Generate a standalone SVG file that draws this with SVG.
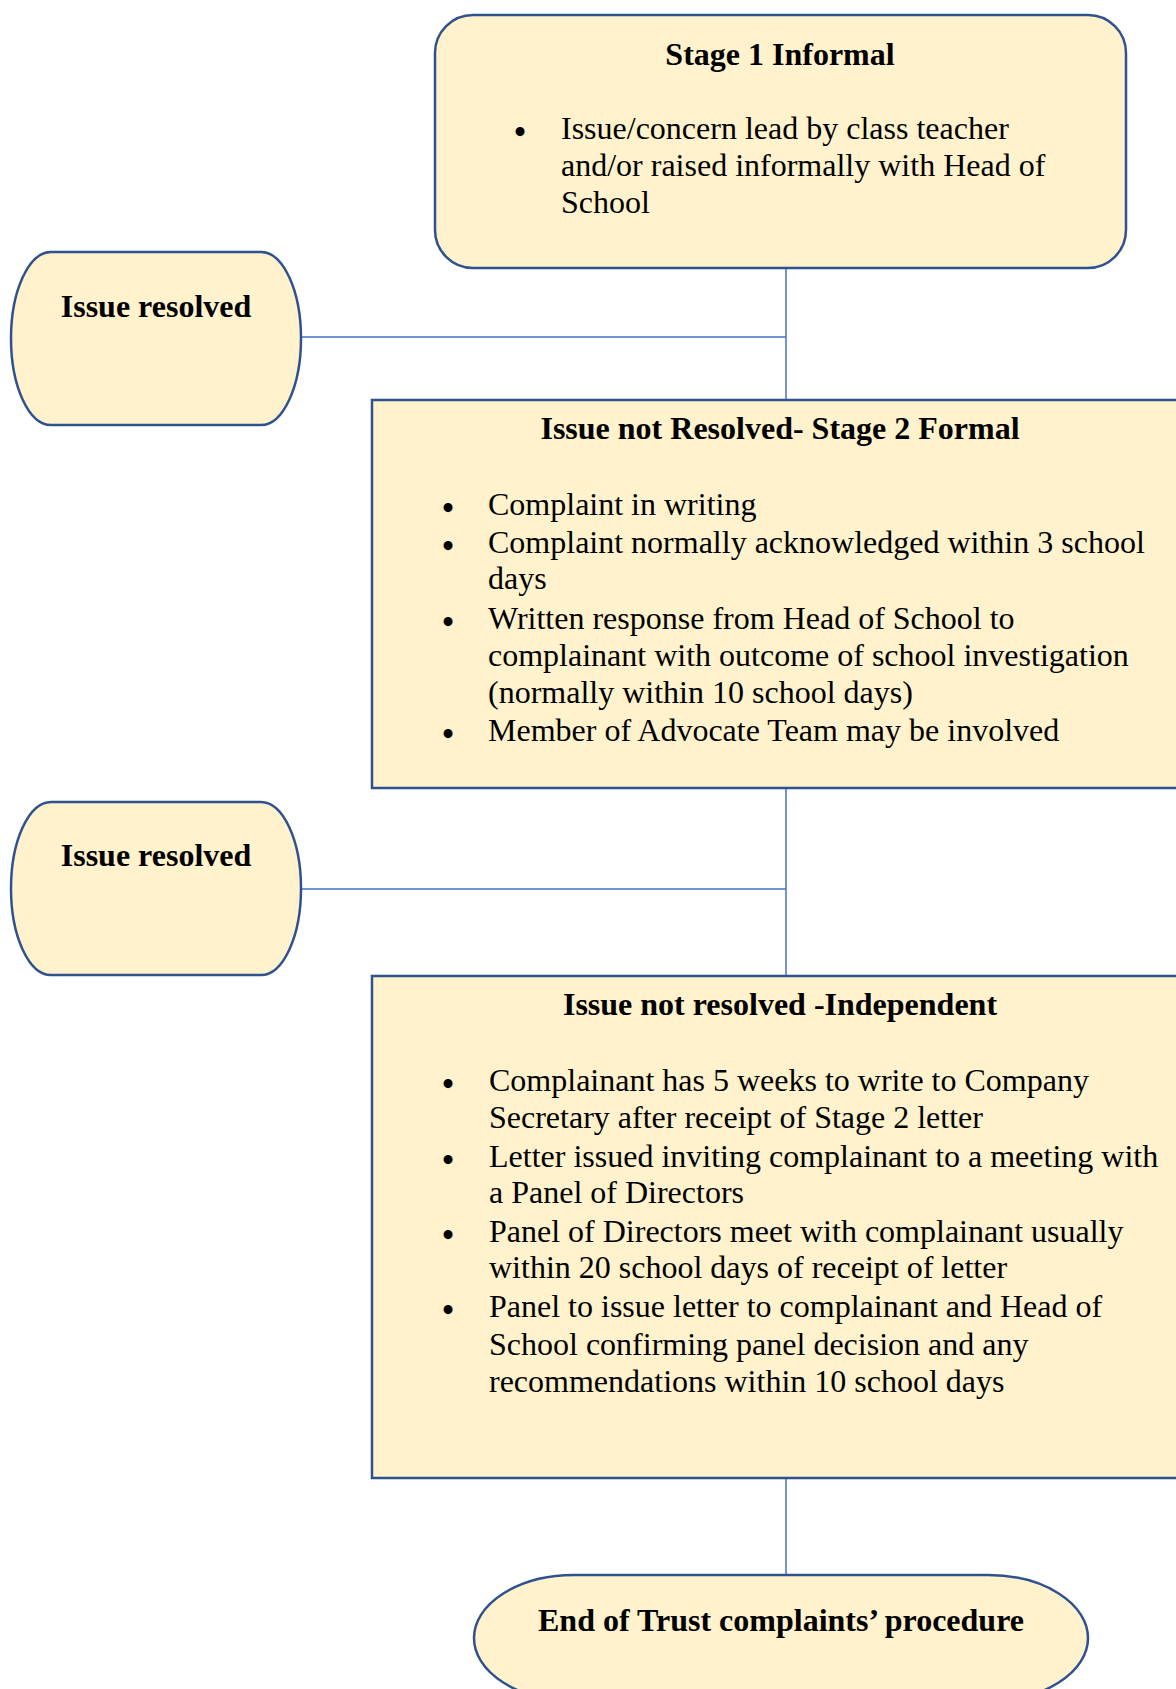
<svg xmlns="http://www.w3.org/2000/svg" width="1176" height="1689" viewBox="0 0 1176 1689">
  <style>
    .node { fill: #FFF2CC; stroke: #2F528F; stroke-width: 2.5; }
    .conn { stroke: #4472C4; stroke-width: 1.5; fill: none; }
    .t { font-family: "Liberation Serif", "Times New Roman", serif; font-size: 32px; fill: #000; }
    .b { font-weight: bold; }
    .c { text-anchor: middle; }
    .bul { font-family: "Liberation Serif", "Times New Roman", serif; font-size: 33px; font-weight: bold; text-anchor: middle; fill: #000; }
  </style>
  <rect x="0" y="0" width="1176" height="1689" fill="#FFFFFF"/>
  <g id="connectors">
    <line class="conn" x1="786" y1="268" x2="786" y2="400"/>
    <line class="conn" x1="301" y1="337" x2="786" y2="337"/>
    <line class="conn" x1="786" y1="788" x2="786" y2="976"/>
    <line class="conn" x1="301" y1="889" x2="786" y2="889"/>
    <line class="conn" x1="786" y1="1478" x2="786" y2="1575"/>
  </g>
  <g id="stage1">
    <rect class="node" x="435" y="15" width="691" height="253" rx="38" ry="38"/>
    <text class="t b c" x="780" y="65">Stage 1 Informal</text>
    <text class="bul" x="520" y="143">•</text>
    <text class="t" x="561" y="139">Issue/concern lead by class teacher</text>
    <text class="t" x="561" y="176">and/or raised informally with Head of</text>
    <text class="t" x="561" y="213">School</text>
  </g>
  <g id="resolved1">
    <path class="node" d="M 51,252 H 261 A 40 86.5 0 0 1 261,425 H 51 A 40 86.5 0 0 1 51,252 Z"/>
    <text class="t b c" x="156" y="317">Issue resolved</text>
  </g>
  <g id="stage2">
    <rect class="node" x="372" y="400" width="830" height="388"/>
    <text class="t b c" x="780" y="439">Issue not Resolved- Stage 2 Formal</text>
    <text class="bul" x="448" y="519">•</text>
    <text class="t" x="488" y="515">Complaint in writing</text>
    <text class="bul" x="448" y="557">•</text>
    <text class="t" x="488" y="553">Complaint normally acknowledged within 3 school</text>
    <text class="t" x="488" y="589">days</text>
    <text class="bul" x="448" y="633">•</text>
    <text class="t" x="488" y="629">Written response from Head of School to</text>
    <text class="t" x="488" y="666">complainant with outcome of school investigation</text>
    <text class="t" x="488" y="703">(normally within 10 school days)</text>
    <text class="bul" x="448" y="745">•</text>
    <text class="t" x="488" y="741">Member of Advocate Team may be involved</text>
  </g>
  <g id="resolved2">
    <path class="node" d="M 51,802 H 261 A 40 86.5 0 0 1 261,975 H 51 A 40 86.5 0 0 1 51,802 Z"/>
    <text class="t b c" x="156" y="866">Issue resolved</text>
  </g>
  <g id="stage3">
    <rect class="node" x="372" y="976" width="830" height="502"/>
    <text class="t b c" x="780" y="1015">Issue not resolved -Independent</text>
    <text class="bul" x="448" y="1095">•</text>
    <text class="t" x="489" y="1091">Complainant has 5 weeks to write to Company</text>
    <text class="t" x="489" y="1128">Secretary after receipt of Stage 2 letter</text>
    <text class="bul" x="448" y="1171">•</text>
    <text class="t" x="489" y="1167">Letter issued inviting complainant to a meeting with</text>
    <text class="t" x="489" y="1203">a Panel of Directors</text>
    <text class="bul" x="448" y="1246">•</text>
    <text class="t" x="489" y="1242">Panel of Directors meet with complainant usually</text>
    <text class="t" x="489" y="1278">within 20 school days of receipt of letter</text>
    <text class="bul" x="448" y="1321">•</text>
    <text class="t" x="489" y="1317">Panel to issue letter to complainant and Head of</text>
    <text class="t" x="489" y="1355">School confirming panel decision and any</text>
    <text class="t" x="489" y="1392">recommendations within 10 school days</text>
  </g>
  <g id="end">
    <rect class="node" x="474" y="1575" width="614" height="126" rx="100" ry="63"/>
    <text class="t b c" x="781" y="1631">End of Trust complaints’ procedure</text>
  </g>
</svg>
